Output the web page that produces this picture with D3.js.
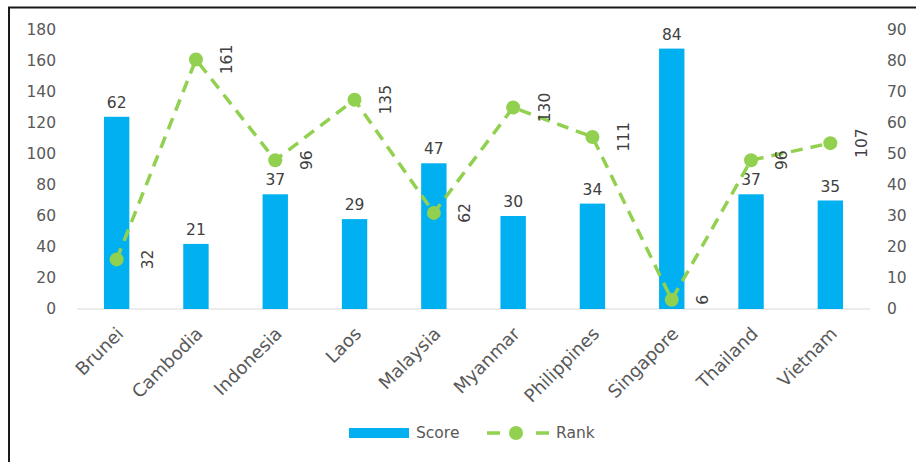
<!DOCTYPE html>
<html>
<head>
<meta charset="utf-8">
<script src="https://cdn.jsdelivr.net/npm/d3@7"></script>
<style>
  body { margin: 0; background: #fff; }
  svg text { font-family: "DejaVu Sans", "Open Sans", sans-serif; }
</style>
</head>
<body>
<svg id="chart" width="916" height="462"></svg>
<script>
// chart data
const countries = ["Brunei", "Cambodia", "Indonesia", "Laos", "Malaysia", "Myanmar", "Philippines", "Singapore", "Thailand", "Vietnam"];
const scores = [62, 21, 37, 29, 47, 30, 34, 84, 37, 35];
const ranks = [32, 161, 96, 135, 62, 130, 111, 6, 96, 107];
const leftTicks = [0, 20, 40, 60, 80, 100, 120, 140, 160, 180];
const rightTicks = [0, 10, 20, 30, 40, 50, 60, 70, 80, 90];

const width = 916, height = 462;
const margin = { top: 30, right: 46, bottom: 153, left: 77 };
const barColor = "#00B0F0";
const lineColor = "#92D050";
const axisText = "#595959";
const labelText = "#404040";
const fontSize = 15.5;

const svg = d3.select("#chart");

// outer frame (top and left edges visible)
svg.append("path")
    .attr("d", `M9,${height} L9,7.5 L${width},7.5`)
    .attr("fill", "none")
    .attr("stroke", "#1a1a1a")
    .attr("stroke-width", 2);

const x = d3.scaleBand()
    .domain(countries)
    .range([margin.left, width - margin.right])
    .paddingInner(0.68)
    .paddingOuter(0.34);

// rank on the left axis, score on the right axis
const yLeft = d3.scaleLinear().domain([0, 180]).range([height - margin.bottom, margin.top]);
const yRight = d3.scaleLinear().domain([0, 90]).range([height - margin.bottom, margin.top]);

const g = svg.append("g");

// left axis labels
const leftAxis = g.append("g")
    .attr("transform", `translate(${margin.left - 21},0)`)
    .call(d3.axisLeft(yLeft).tickValues(leftTicks).tickSize(0).tickPadding(0));
leftAxis.select(".domain").remove();
leftAxis.selectAll("text").attr("fill", axisText).attr("font-size", fontSize);

// right axis labels
const rightAxis = g.append("g")
    .attr("transform", `translate(${width - margin.right + 17},0)`)
    .call(d3.axisRight(yRight).tickValues(rightTicks).tickSize(0).tickPadding(0));
rightAxis.select(".domain").remove();
rightAxis.selectAll("text").attr("fill", axisText).attr("font-size", fontSize);

// baseline
g.append("line")
    .attr("x1", margin.left).attr("x2", width - margin.right)
    .attr("y1", yLeft(0)).attr("y2", yLeft(0))
    .attr("stroke", "#d9d9d9").attr("stroke-width", 1);

// bars
g.selectAll("rect.bar")
    .data(countries)
    .enter()
    .append("rect")
    .attr("class", "bar")
    .attr("x", d => x(d))
    .attr("width", x.bandwidth())
    .attr("y", (d, i) => yRight(scores[i]))
    .attr("height", (d, i) => yRight(0) - yRight(scores[i]))
    .attr("fill", barColor);

// bar value labels
g.selectAll("text.score")
    .data(countries)
    .enter()
    .append("text")
    .attr("class", "score")
    .attr("x", d => x(d) + x.bandwidth() / 2)
    .attr("y", (d, i) => yRight(scores[i]) - 9)
    .attr("text-anchor", "middle")
    .attr("font-size", fontSize)
    .attr("fill", labelText)
    .text((d, i) => scores[i]);

// rank line
const cx = d => x(d) + x.bandwidth() / 2;
const line = d3.line()
    .x(d => cx(d))
    .y((d, i) => yLeft(ranks[i]));

g.append("path")
    .datum(countries)
    .attr("d", line)
    .attr("fill", "none")
    .attr("stroke", lineColor)
    .attr("stroke-width", 3.5)
    .attr("stroke-dasharray", "12,8");

g.selectAll("circle.rank")
    .data(countries)
    .enter()
    .append("circle")
    .attr("class", "rank")
    .attr("cx", d => cx(d))
    .attr("cy", (d, i) => yLeft(ranks[i]))
    .attr("r", 7)
    .attr("fill", lineColor);

// rank labels, rotated, right of each point
g.selectAll("text.rank")
    .data(countries)
    .enter()
    .append("text")
    .attr("class", "rank")
    .attr("transform", (d, i) => `translate(${cx(d) + 31},${yLeft(ranks[i])}) rotate(-90)`)
    .attr("text-anchor", "middle")
    .attr("dy", "0.35em")
    .attr("font-size", fontSize)
    .attr("fill", labelText)
    .text((d, i) => ranks[i]);

// category labels
g.selectAll("text.cat")
    .data(countries)
    .enter()
    .append("text")
    .attr("class", "cat")
    .attr("transform", d => `translate(${cx(d) - 1},${yLeft(0) + 17}) rotate(-45)`)
    .attr("text-anchor", "end")
    .attr("dy", "0.7em")
    .attr("font-size", 18)
    .attr("fill", axisText)
    .text(d => d);

// legend
const legend = svg.append("g").attr("transform", "translate(349,433)");
legend.append("rect")
    .attr("x", 0).attr("y", -5)
    .attr("width", 60).attr("height", 10)
    .attr("fill", barColor);
legend.append("text")
    .attr("x", 67).attr("dy", "0.35em")
    .attr("font-size", fontSize).attr("fill", axisText)
    .text("Score");
legend.append("line")
    .attr("x1", 138).attr("x2", 151)
    .attr("stroke", lineColor).attr("stroke-width", 3.5);
legend.append("circle")
    .attr("cx", 167).attr("r", 7).attr("fill", lineColor);
legend.append("line")
    .attr("x1", 187).attr("x2", 200)
    .attr("stroke", lineColor).attr("stroke-width", 3.5);
legend.append("text")
    .attr("x", 207).attr("dy", "0.35em")
    .attr("font-size", fontSize).attr("fill", axisText)
    .text("Rank");
</script>
</body>
</html>
